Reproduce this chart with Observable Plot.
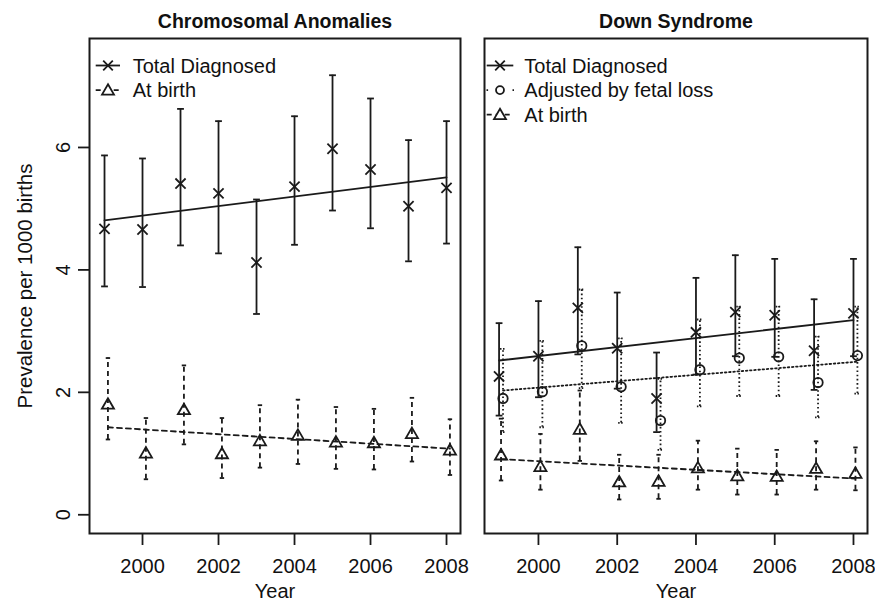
<!DOCTYPE html>
<html><head><meta charset="utf-8">
<script src="https://cdn.jsdelivr.net/npm/d3@7"></script>
<script src="https://cdn.jsdelivr.net/npm/@observablehq/plot@0.6"></script>
<style>
html,body{margin:0;padding:0;background:#fff;}
#chart{position:relative;width:875px;height:602px;font-family:"Liberation Sans",Arial,Helvetica,sans-serif;}
#chart > div{position:absolute;top:0;}
</style></head>
<body>
<div id="chart"><div id="left" style="left:0"></div><div id="right" style="left:470px"></div></div>
<script>
// ---------- data ----------
const years = [1999, 2000, 2001, 2002, 2003, 2004, 2005, 2006, 2007, 2008];
const xTicks = [2000, 2002, 2004, 2006, 2008];
const yTicks = [0, 2, 4, 6];
const titles = ["Chromosomal Anomalies", "Down Syndrome"];
const seriesNames = ["Total Diagnosed", "Adjusted by fetal loss", "At birth"];

// Chromosomal anomalies
const caTotal   = [4.67, 4.66, 5.41, 5.25, 4.12, 5.36, 5.98, 5.64, 5.04, 5.34];
const caTotalLo = [3.73, 3.72, 4.40, 4.27, 3.28, 4.41, 4.97, 4.68, 4.14, 4.43];
const caTotalHi = [5.87, 5.82, 6.63, 6.43, 5.15, 6.51, 7.18, 6.80, 6.12, 6.43];
const caBirth   = [1.79, 0.99, 1.70, 0.98, 1.19, 1.28, 1.17, 1.16, 1.31, 1.04];
const caBirthLo = [1.23, 0.58, 1.15, 0.60, 0.77, 0.83, 0.75, 0.74, 0.87, 0.65];
const caBirthHi = [2.56, 1.58, 2.44, 1.58, 1.79, 1.88, 1.76, 1.73, 1.91, 1.56];
const trendYears = [1999, 2008];
const caTotalTrend = [4.81, 5.51];
const caBirthTrend = [1.43, 1.08];

// Down syndrome
const dsTotal   = [2.26, 2.59, 3.38, 2.72, 1.90, 2.98, 3.31, 3.26, 2.68, 3.29];
const dsTotalLo = [1.62, 1.92, 2.62, 2.06, 1.35, 2.29, 2.59, 2.58, 2.04, 2.59];
const dsTotalHi = [3.13, 3.49, 4.37, 3.63, 2.65, 3.87, 4.24, 4.18, 3.52, 4.18];
const dsAdj     = [1.90, 2.01, 2.76, 2.09, 1.54, 2.37, 2.56, 2.58, 2.16, 2.60];
const dsAdjLo   = [1.35, 1.43, 2.07, 1.50, 1.06, 1.77, 1.94, 1.94, 1.59, 1.98];
const dsAdjHi   = [2.71, 2.84, 3.68, 2.88, 2.22, 3.19, 3.40, 3.40, 2.91, 3.40];
const dsBirth   = [0.96, 0.77, 1.38, 0.52, 0.53, 0.75, 0.62, 0.61, 0.74, 0.66];
const dsBirthLo = [0.56, 0.41, 0.88, 0.25, 0.26, 0.41, 0.33, 0.33, 0.41, 0.40];
const dsBirthHi = [1.57, 1.32, 2.03, 0.98, 0.98, 1.21, 1.08, 1.06, 1.20, 1.10];
const dsTotalTrend = [2.52, 3.18];
const dsAdjTrend   = [2.03, 2.50];
const dsBirthTrend = [0.91, 0.59];

// ---------- helpers ----------
const INK = "#1a1a1a";
const LW = 1.8;
const DASH = "5,4";
const DOT = "1.6,2.6";
const FONT = "'Liberation Sans', Arial, Helvetica, sans-serif";

const rows = (v, lo, hi) => years.map((y, i) => ({year: y, v: v[i], lo: lo[i], hi: hi[i]}));
const trendRows = (t) => trendYears.map((y, i) => ({year: y, v: t[i]}));

const capSymbol = {
  draw(ctx, size) { const r = Math.sqrt(size / Math.PI); ctx.moveTo(-r, 0); ctx.lineTo(r, 0); }
};

function seriesMarks(data, trend, {off, dash, capR, capDash, symbol, r}) {
  const X = d => d.year + off;
  return [
    Plot.ruleX(data, {x: X, y1: "lo", y2: "hi", stroke: INK, strokeWidth: LW, strokeDasharray: dash}),
    Plot.dot(data, {x: X, y: "hi", symbol: capSymbol, r: capR, fill: "none", stroke: INK, strokeWidth: LW, strokeDasharray: capDash}),
    Plot.dot(data, {x: X, y: "lo", symbol: capSymbol, r: capR, fill: "none", stroke: INK, strokeWidth: LW, strokeDasharray: capDash}),
    Plot.line(trend, {x: X, y: "v", stroke: INK, strokeWidth: LW, strokeDasharray: dash}),
    Plot.dot(data, {x: X, y: "v", symbol, r, fill: "none", stroke: INK, strokeWidth: LW})
  ];
}

const styleTotal = {off: 0, dash: null, capR: 3.4, capDash: null, symbol: "times", r: 4.7};
const styleAdj   = {off: 0.1, dash: DOT, capR: 3, capDash: "1.5,1.5", symbol: "circle", r: 4.7};

function commonText(title) {
  return [
    Plot.text([title], {frameAnchor: "top", dy: -10.5, lineAnchor: "bottom", textAnchor: "middle",
      fontWeight: "bold", fontSize: 19.5, fill: "#111"}),
    Plot.text(["Year"], {frameAnchor: "bottom", dy: 64.5, lineAnchor: "bottom", textAnchor: "middle",
      fontSize: 20, fill: "#111"}),
    Plot.axisX({ticks: xTicks, tickFormat: d => String(d), tickSize: 12, tickPadding: 13, fontSize: 20,
      label: null, stroke: INK, strokeWidth: LW, fill: "#111"}),
    Plot.frame({stroke: INK, strokeWidth: 2})
  ];
}

function addLegend(svg, items, {lx0, lx1, sx, tx}) {
  const g = d3.select(svg).append("g").attr("text-anchor", "start");
  items.forEach(it => {
    const cy = it.base - 7.2;
    g.append("line").attr("x1", it.lx0 ?? lx0).attr("x2", it.lx1 ?? lx1).attr("y1", cy).attr("y2", cy)
      .attr("stroke", INK).attr("stroke-width", LW).attr("stroke-dasharray", it.dash || null);
    g.append("path").attr("transform", `translate(${sx},${cy + (it.dy || 0)})`)
      .attr("d", d3.symbol(it.type, it.size)())
      .attr("fill", it.fill || "none").attr("stroke", INK).attr("stroke-width", LW);
    g.append("text").attr("x", tx).attr("y", it.base).attr("font-size", 20)
      .attr("text-anchor", "start")
      .attr("font-family", FONT).attr("fill", "#111").text(it.text);
  });
}

// ---------- left panel ----------
const leftSvg = Plot.plot({
  width: 470, height: 602,
  marginLeft: 89, marginRight: 10, marginTop: 38, marginBottom: 69,
  style: {fontFamily: FONT, background: "white", color: "#111", overflow: "visible"},
  x: {domain: [1998.605, 2008.368]},
  y: {domain: [-0.306, 7.78]},
  marks: [
    Plot.axisY({ticks: yTicks, tickSize: 11, tickRotate: -90, tickPadding: 9, fontSize: 20, label: null,
      stroke: INK, strokeWidth: LW, fill: "#111"}),
    Plot.text(["Prevalence per 1000 births"], {frameAnchor: "left", dx: -57.5, rotate: -90,
      lineAnchor: "bottom", textAnchor: "middle", fontSize: 20.5, fill: "#111"}),
    ...commonText(titles[0]),
    ...seriesMarks(rows(caTotal, caTotalLo, caTotalHi), trendRows(caTotalTrend), styleTotal),
    ...seriesMarks(rows(caBirth, caBirthLo, caBirthHi), trendRows(caBirthTrend),
      {off: 0.09, dash: DASH, capR: 2.2, capDash: null, symbol: "triangle", r: 4.5})
  ]
});
document.getElementById("left").append(leftSvg);
addLegend(leftSvg, [
  {base: 72.7, text: seriesNames[0], type: d3.symbolTimes, size: 62},
  {base: 97.3, text: seriesNames[2], type: d3.symbolTriangle, size: 62, dash: DASH, fill: "white", dy: 1}
], {lx0: 95.7, lx1: 120, sx: 108, tx: 132.7});

// ---------- right panel ----------
const rightSvg = Plot.plot({
  width: 405, height: 602,
  marginLeft: 14, marginRight: 8, marginTop: 38, marginBottom: 69,
  style: {fontFamily: FONT, background: "white", color: "#111", overflow: "visible"},
  x: {domain: [1998.63, 2008.356]},
  y: {domain: [-0.306, 7.78], axis: null},
  marks: [
    ...commonText(titles[1]),
    ...seriesMarks(rows(dsBirth, dsBirthLo, dsBirthHi), trendRows(dsBirthTrend),
      {off: 0.05, dash: DASH, capR: 2.2, capDash: null, symbol: "triangle", r: 4.5}),
    ...seriesMarks(rows(dsAdj, dsAdjLo, dsAdjHi), trendRows(dsAdjTrend), styleAdj),
    ...seriesMarks(rows(dsTotal, dsTotalLo, dsTotalHi), trendRows(dsTotalTrend), styleTotal)
  ]
});
document.getElementById("right").append(rightSvg);
addLegend(rightSvg, [
  {base: 72.7, text: seriesNames[0], type: d3.symbolTimes, size: 62},
  {base: 97.3, text: seriesNames[1], type: d3.symbolCircle, size: 50, dash: "1.6,11.4", fill: "white", lx0: 16.5, lx1: 44},
  {base: 121.9, text: seriesNames[2], type: d3.symbolTriangle, size: 62, dash: DASH, fill: "white", dy: 1}
], {lx0: 16.7, lx1: 43.3, sx: 30, tx: 54.3});
</script>
</body></html>
